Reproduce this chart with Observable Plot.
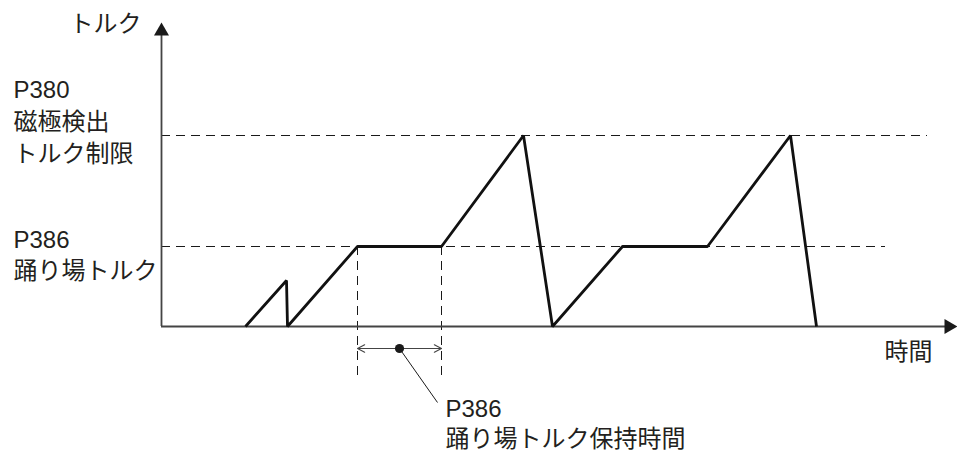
<!DOCTYPE html>
<html>
<head>
<meta charset="utf-8">
<script src="https://cdn.jsdelivr.net/npm/d3@7"></script>
<script src="https://cdn.jsdelivr.net/npm/@observablehq/plot@0.6"></script>
<style>
  html, body { margin: 0; padding: 0; background: #fff; }
</style>
</head>
<body>
<div id="chart"></div>
<script>
// Torque profile (time units, torque units)
const times  = [42, 62.5, 63, 98, 140, 181, 195.5, 230.5, 273, 314.5, 327.5];
const torque = [0, 23, 0, 40, 40, 95.5, 0, 40, 40, 95.5, 0];

// Parameter levels
const levelNames = ["P386", "P380"];
const levelValues = [40, 95.5];
const levelEnds = [362, 383];

// Hold time interval
const holdStart = 98;
const holdEnd = 140;
const holdMid = 119;
const holdY = -11;
const guideBottom = -27;
const leaderEnd = {t: 138, v: -38};

// Axis extents
const xAxisEnd = 392, xMax = 398;
const yAxisEnd = 145.5, yMax = 152;

// Text labels (left-anchored)
const labelText = ["トルク", "P380", "磁極検出", "トルク制限", "P386", "踊り場トルク", "P386", "踊り場トルク保持時間"];
const labelT    = [-46, -74, -74, -74, -74, -74, 142, 142];
const labelV    = [151.3, 118.3, 102, 86, 43.3, 27.5, -41.2, -56.2];
// Text labels (right-anchored)
const endText = ["時間"];
const endT = [385.5];
const endV = [-13];

const profile = times.map((t, i) => ({t, v: torque[i]}));
const levels = levelValues.map((v, i) => ({name: levelNames[i], v, x2: levelEnds[i]}));
const labels = labelText.map((s, i) => ({s, t: labelT[i], v: labelV[i]}));
const endLabels = endText.map((s, i) => ({s, t: endT[i], v: endV[i]}));

const ink = "#1a1a1a";
const axisInk = "#444";

const chart = Plot.plot({
  width: 957,
  height: 452,
  marginLeft: 161,
  marginRight: 0,
  marginTop: 22,
  marginBottom: 126,
  x: {domain: [0, xMax], axis: null},
  y: {domain: [0, yMax], axis: null},
  style: {fontFamily: "'Liberation Sans', 'Noto Sans CJK JP', sans-serif", background: "#fff"},
  marks: [
    // dashed level lines
    Plot.ruleY(levels, {y: "v", x1: 0, x2: "x2", stroke: ink, strokeWidth: 1, strokeDasharray: "9,6"}),
    // vertical dashed guides for hold time
    Plot.ruleX([holdStart, holdEnd], {x: d => d, y1: levelValues[0], y2: guideBottom, stroke: ink, strokeWidth: 1, strokeDasharray: "9,6"}),
    // axes
    Plot.ruleY([0], {x1: 0, x2: xAxisEnd, stroke: axisInk, strokeWidth: 1.8}),
    Plot.ruleX([0], {y1: 0, y2: yAxisEnd, stroke: axisInk, strokeWidth: 1.8}),
    Plot.dot([{t: 0, v: yMax}], {x: "t", y: "v", symbol: "triangle", r: 5.57, fill: ink, stroke: null, dy: 8.66}),
    Plot.dot([{t: xMax, v: 0}], {x: "t", y: "v", symbol: "triangle", r: 5.57, fill: ink, stroke: null, rotate: 90, dx: -8.66}),
    // torque profile
    Plot.line(profile, {x: "t", y: "v", stroke: "#111", strokeWidth: 2.8, strokeLinejoin: "miter", strokeLinecap: "butt"}),
    // double-headed hold arrow
    Plot.arrow([{x1: holdMid, x2: holdStart}, {x1: holdMid, x2: holdEnd}], {
      x1: "x1", x2: "x2", y1: holdY, y2: holdY, stroke: axisInk, strokeWidth: 1.1, headLength: 11, headAngle: 55
    }),
    Plot.link([{t: holdMid, v: holdY}], {x1: "t", y1: "v", x2: leaderEnd.t, y2: leaderEnd.v, stroke: ink, strokeWidth: 1}),
    Plot.dot([{t: holdMid, v: holdY}], {x: "t", y: "v", r: 4.6, fill: ink, stroke: null}),
    // labels
    Plot.text(labels, {x: "t", y: "v", text: "s", textAnchor: "start", fontSize: 24, fill: "#231f20"}),
    Plot.text(endLabels, {x: "t", y: "v", text: "s", textAnchor: "end", fontSize: 24, fill: "#231f20"})
  ]
});
document.getElementById("chart").appendChild(chart);
</script>
</body>
</html>
